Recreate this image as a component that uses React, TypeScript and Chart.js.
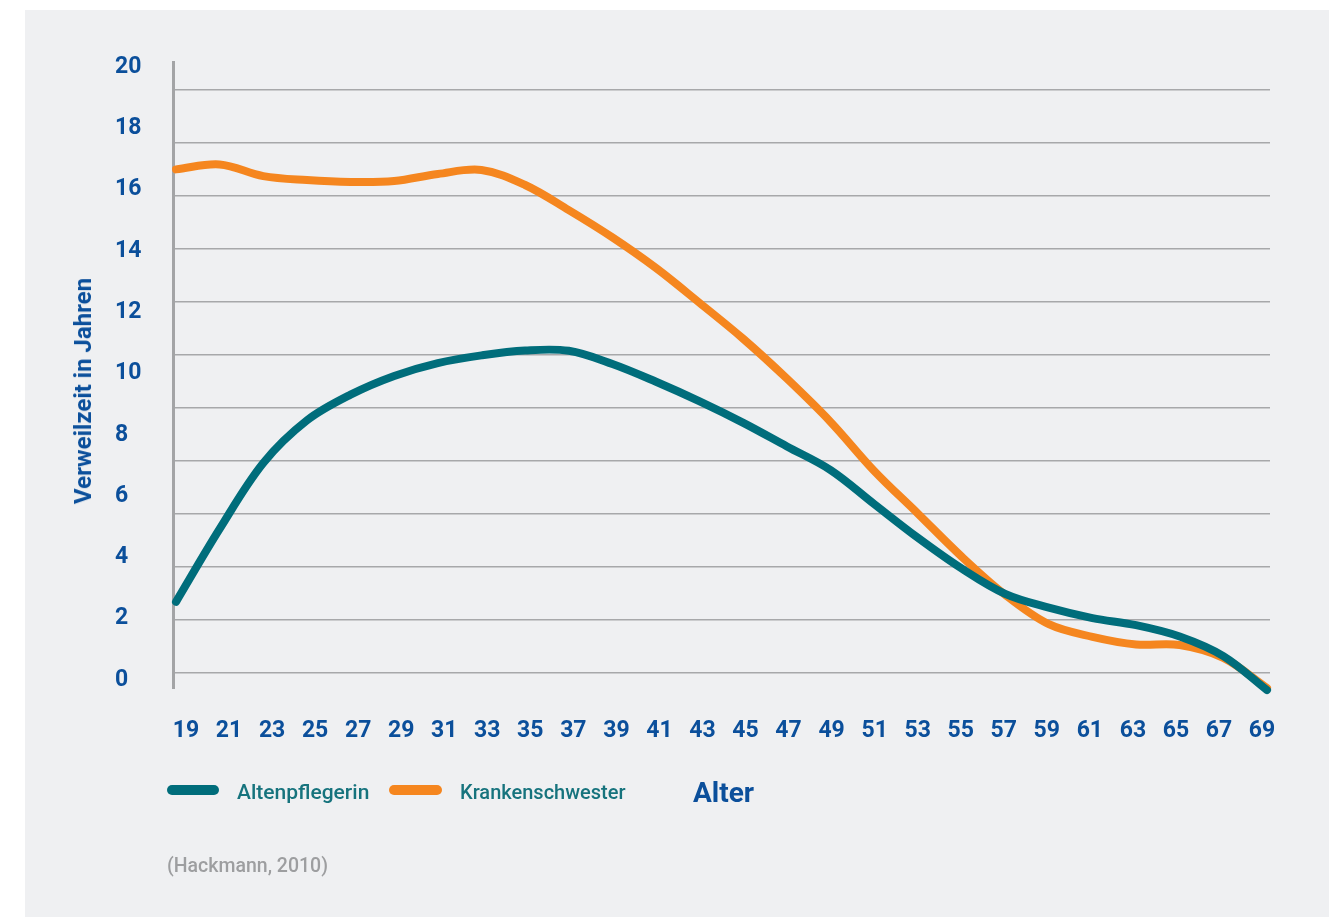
import React, { useEffect, useRef } from "react";
import { Chart, registerables } from "chart.js";

Chart.register(...registerables);

const ages = [19, 21, 23, 25, 27, 29, 31, 33, 35, 37, 39, 41, 43, 45, 47, 49, 51, 53, 55, 57, 59, 61, 63, 65, 67, 69];
const altenpflegerin = [2.55, 4.93, 7.08, 8.47, 9.31, 9.92, 10.34, 10.59, 10.75, 10.74, 10.31, 9.73, 9.09, 8.39, 7.62, 6.85, 5.74, 4.64, 3.64, 2.81, 2.36, 2.02, 1.79, 1.42, 0.78, -0.33];
const krankenschwester = [16.66, 16.82, 16.44, 16.31, 16.25, 16.28, 16.51, 16.64, 16.15, 15.33, 14.44, 13.44, 12.3, 11.13, 9.83, 8.42, 6.82, 5.43, 4.03, 2.78, 1.82, 1.41, 1.16, 1.14, 0.72, -0.26];
const yTicks = [0, 2, 4, 6, 8, 10, 12, 14, 16, 18, 20];
const gridLines = [0, 1, 2, 3, 4, 5, 6, 7, 8, 9, 10, 11];

const TEAL = "#006d7b";
const ORANGE = "#f5861f";
const BLUE = "#0b4f9b";
const LEGEND_TEXT = "#16737d";

export default function App() {
  const ref = useRef<HTMLCanvasElement | null>(null);

  useEffect(() => {
    if (!ref.current) return;
    const lineStyle = {
      borderWidth: 8,
      borderCapStyle: "round",
      borderJoinStyle: "round",
      pointRadius: 0,
      tension: 0.35,
      clip: false,
      xAxisID: "x",
      yAxisID: "y",
    };
    const chart = new Chart(ref.current, {
      type: "line",
      data: {
        datasets: [
          {
            label: "Altenpflegerin",
            data: ages.map((a, i) => ({ x: a, y: altenpflegerin[i] })),
            borderColor: TEAL,
            ...lineStyle,
          } as any,
          {
            label: "Krankenschwester",
            data: ages.map((a, i) => ({ x: a, y: krankenschwester[i] })),
            borderColor: ORANGE,
            ...lineStyle,
          } as any,
        ],
      },
      options: {
        responsive: false,
        animation: false,
        layout: { padding: { left: 115, right: 59, top: 62, bottom: 0 } },
        plugins: { legend: { display: false }, tooltip: { enabled: false } },
        scales: {
          x: {
            type: "linear",
            display: false,
            min: 18.8625,
            max: 69.1375,
          },
          xl: {
            type: "linear",
            position: "bottom",
            min: 18.396,
            max: 69.372,
            grid: { display: false, drawTicks: false },
            border: { display: false },
            afterBuildTicks: (scale: any) => {
              scale.ticks = ages.map((v) => ({ value: v }));
            },
            afterFit: (scale: any) => {
              scale.height = 229;
            },
            ticks: {
              autoSkip: false,
              maxRotation: 0,
              minRotation: 0,
              padding: 29,
              color: BLUE,
              font: { family: "Roboto", weight: "bold", size: 23 },
              callback: (v: any) => String(v),
            },
          },
          y: {
            type: "linear",
            position: "left",
            min: -0.261,
            max: 20.163,
            grid: { display: false, drawTicks: false },
            border: { display: true, color: "#a3a4a6", width: 3 },
            afterBuildTicks: (scale: any) => {
              scale.ticks = yTicks.map((v) => ({ value: v }));
            },
            afterFit: (scale: any) => {
              scale.width = 58;
            },
            ticks: {
              crossAlign: "far",
              padding: 0,
              color: BLUE,
              font: { family: "Roboto", weight: "bold", size: 23 },
              callback: (v: any) => String(v),
            },
          },
          yg: {
            type: "linear",
            position: "right",
            min: -0.283,
            max: 11.528,
            grid: { display: true, drawTicks: false, color: "#a7a8aa", lineWidth: 1.5 },
            border: { display: false },
            ticks: { display: false },
            afterBuildTicks: (scale: any) => {
              scale.ticks = gridLines.map((v) => ({ value: v }));
            },
            afterFit: (scale: any) => {
              scale.width = 0;
            },
          },
        },
      },
    });
    return () => chart.destroy();
  }, []);

  const legendText: React.CSSProperties = {
    position: "absolute",
    fontFamily: "Roboto",
    fontWeight: 500,
    fontSize: 21,
    lineHeight: "21px",
    color: LEGEND_TEXT,
    whiteSpace: "nowrap",
  };

  return (
    <div style={{ position: "absolute", left: 0, top: 0, width: 1329, height: 917, background: "#ffffff", overflow: "hidden" }}>
      <div style={{ position: "absolute", left: 25, top: 10, right: 0, bottom: 0, background: "#eff0f2" }} />
      <canvas ref={ref} width={1329} height={917} style={{ position: "absolute", left: 0, top: 0, width: 1329, height: 917 }} />
      <div
        style={{
          position: "absolute",
          left: 83,
          top: 391,
          transform: "translate(-50%, -50%) rotate(-90deg)",
          fontFamily: "Roboto",
          fontWeight: 700,
          fontSize: 24,
          color: BLUE,
          whiteSpace: "nowrap",
          lineHeight: "24px",
        }}
      >
        Verweilzeit in Jahren
      </div>
      <div style={{ position: "absolute", left: 167, top: 785, width: 52, height: 10, borderRadius: 5, background: TEAL }} />
      <div style={{ ...legendText, left: 237, top: 782 }}>Altenpflegerin</div>
      <div style={{ position: "absolute", left: 389, top: 785, width: 53, height: 10, borderRadius: 5, background: ORANGE }} />
      <div style={{ ...legendText, left: 460, top: 782, fontSize: 20, letterSpacing: "0px" }}>Krankenschwester</div>
      <div
        style={{
          position: "absolute",
          left: 693,
          top: 779,
          fontFamily: "Roboto",
          fontWeight: 700,
          fontSize: 28,
          lineHeight: "28px",
          color: BLUE,
          whiteSpace: "nowrap",
        }}
      >
        Alter
      </div>
      <div
        style={{
          position: "absolute",
          left: 167,
          top: 856,
          fontFamily: "Roboto",
          fontWeight: 500,
          fontSize: 19.5,
          lineHeight: "19.5px",
          color: "#9d9ea0",
          whiteSpace: "nowrap",
        }}
      >
        (Hackmann, 2010)
      </div>
    </div>
  );
}
